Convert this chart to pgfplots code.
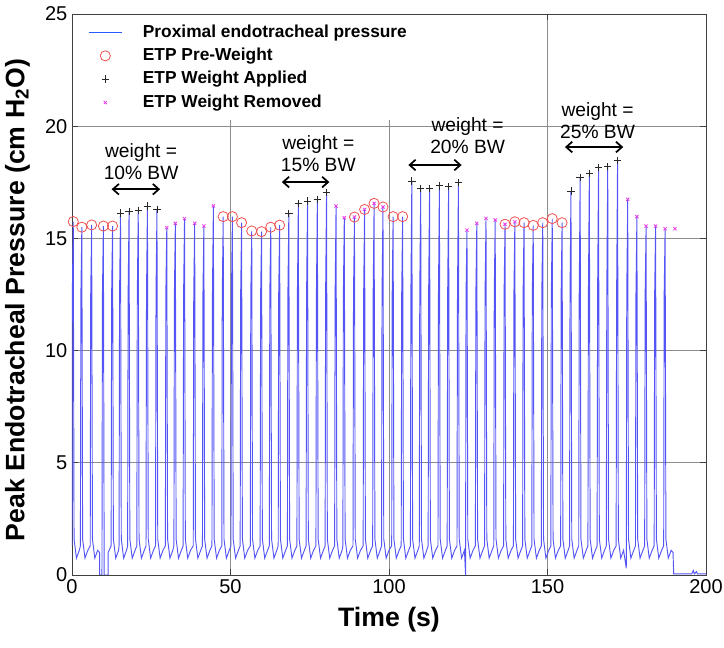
\documentclass[border=0pt]{standalone}
\usepackage{pgfplots}
\pgfplotsset{compat=1.18}
\usepackage{fontspec}
\setmainfont{Liberation Sans}
\usetikzlibrary{arrows.meta}
\definecolor{trace}{RGB}{85,85,245}
\definecolor{legblue}{RGB}{40,90,255}
\definecolor{circred}{RGB}{240,80,80}
\definecolor{xmag}{RGB}{230,60,230}
\definecolor{plusk}{RGB}{40,40,40}
\begin{document}
\begin{tikzpicture}
\begin{axis}[
  scale only axis, width=475.5pt, height=420.75pt,
  xmin=0, xmax=200, ymin=0, ymax=25,
  xtick={0,50,100,150,200}, ytick={0,5,10,15,20,25},
  grid=major, major grid style={black!45, line width=0.5pt},
  axis line style={black!75, line width=0.6pt},
  tick style={black!75, line width=0.6pt}, major tick length=4.5pt,
  tick pos=both,
  /pgf/number format/assume math mode=true,
  ticklabel style={font=\fontsize{15}{18}\selectfont},
  xlabel={Time (s)},
  ylabel={Peak Endotracheal Pressure (cm H\textsubscript{2}O)},
  label style={font=\fontsize{20}{24}\selectfont\bfseries},
  xlabel style={at={(axis description cs:0.5,-0.080)}, anchor=center},
  ylabel style={at={(axis description cs:-0.086,0.49)}, anchor=center},
  legend image code/.code={\draw[mark repeat=2,mark phase=2,#1] plot coordinates {(0pt,0pt) (12.5pt,0pt) (25pt,0pt)};},
  legend cell align=left,
  legend style={at={(rel axis cs:0,1)}, xshift=0.6pt, yshift=-0.6pt, anchor=north west,
    draw=none, fill=white, inner xsep=11pt, inner ysep=7pt, row sep=5.3pt,
    font=\fontsize{13}{15}\selectfont\bfseries,
    nodes={inner sep=0pt, text height=9.5pt, text depth=2.7pt},
    /tikz/every odd column/.append style={column sep=15pt}},
]
\addplot[trace, line width=0.7pt, forget plot] coordinates {
(0,1.3) (0.1,12.5) (0.4,15.75) (0.65,1.6) (1.4,0.75) (2.3,1.1)
(2.65,1.3) (2.8,12.5) (3.1,15.5) (3.35,1.6) (4.1,0.75) (5.0,1.1)
(5.75,1.3) (5.9,12.5) (6.2,15.6) (6.45,1.6) (7.2,0.75) (8.1,1.1)
(8.7,1.0) (8.7,0) (9.45,0)
(9.6,12.5) (9.9,15.55) (10.15,0) (11.4,0) (11.4,1.0)
(12.35,1.3) (12.5,12.5) (12.8,15.55) (13.05,1.6) (13.8,0.75) (14.7,1.1)
(14.85,1.3) (15.0,12.5) (15.3,16.13) (15.55,1.6) (16.3,0.75) (17.2,1.1)
(17.55,1.3) (17.7,12.5) (18.0,16.2) (18.25,1.6) (19.0,0.75) (19.9,1.1)
(20.45,1.3) (20.6,12.5) (20.9,16.25) (21.15,1.6) (21.9,0.75) (22.8,1.1)
(23.35,1.3) (23.5,12.5) (23.8,16.44) (24.05,1.6) (24.8,0.75) (25.7,1.1)
(26.35,1.3) (26.5,12.5) (26.8,16.29) (27.05,1.6) (27.8,0.75) (28.7,1.1)
(29.45,1.3) (29.6,12.5) (29.9,15.48) (30.15,1.6) (30.9,0.75) (31.8,1.1)
(32.15,1.3) (32.3,12.5) (32.6,15.67) (32.85,1.6) (33.6,0.75) (34.5,1.1)
(35.05,1.3) (35.2,12.5) (35.5,15.88) (35.75,1.6) (36.5,0.75) (37.4,1.1)
(38.25,1.3) (38.4,12.5) (38.7,15.67) (38.95,1.6) (39.7,0.75) (40.6,1.1)
(41.15,1.3) (41.3,12.5) (41.6,15.55) (41.85,1.6) (42.6,0.75) (43.5,1.1)
(44.15,1.3) (44.3,12.5) (44.6,16.45) (44.85,1.6) (45.6,0.75) (46.5,1.1)
(47.25,1.3) (47.4,12.5) (47.7,15.97) (47.95,1.6) (48.7,0.75) (49.6,1.1)
(50.15,1.3) (50.3,12.5) (50.6,15.97) (50.85,1.6) (51.6,0.75) (52.5,1.1)
(53.05,1.3) (53.2,12.5) (53.5,15.7) (53.75,1.6) (54.5,0.75) (55.4,1.1)
(56.25,1.3) (56.4,12.5) (56.7,15.33) (56.95,1.6) (57.7,0.75) (58.6,1.1)
(59.35,1.3) (59.5,12.5) (59.8,15.3) (60.05,1.6) (60.8,0.75) (61.7,1.1)
(62.25,1.3) (62.4,12.5) (62.7,15.5) (62.95,1.6) (63.7,0.75) (64.6,1.1)
(65.05,1.3) (65.2,12.5) (65.5,15.59) (65.75,1.6) (66.5,0.75) (67.4,1.1)
(67.95,1.3) (68.1,12.5) (68.4,16.12) (68.65,1.6) (69.4,0.75) (70.3,1.1)
(70.95,1.3) (71.1,12.5) (71.4,16.55) (71.65,1.6) (72.4,0.75) (73.3,1.1)
(73.85,1.3) (74.0,12.5) (74.3,16.67) (74.55,1.6) (75.3,0.75) (76.2,1.1)
(76.95,1.3) (77.1,12.5) (77.4,16.74) (77.65,1.6) (78.4,0.75) (79.3,1.1)
(79.85,1.3) (80.0,12.5) (80.3,17.04) (80.55,1.6) (81.3,0.75) (82.2,1.1)
(82.85,1.3) (83.0,12.5) (83.3,16.44) (83.55,1.6) (84.3,0.75) (85.2,1.1)
(85.45,1.3) (85.6,12.5) (85.9,15.92) (86.15,1.6) (86.9,0.75) (87.8,1.1)
(88.65,1.3) (88.8,12.5) (89.1,15.95) (89.35,1.6) (90.1,0.75) (91.0,1.1)
(91.85,1.3) (92.0,12.5) (92.3,16.29) (92.55,1.6) (93.3,0.75) (94.2,1.1)
(94.85,1.3) (95.0,12.5) (95.3,16.56) (95.55,1.6) (96.3,0.75) (97.2,1.1)
(97.65,1.3) (97.8,12.5) (98.1,16.4) (98.35,1.6) (99.1,0.75) (100.0,1.1)
(100.85,1.3) (101.0,12.5) (101.3,15.97) (101.55,1.6) (102.3,0.75) (103.2,1.1)
(103.85,1.3) (104.0,12.5) (104.3,15.97) (104.55,1.6) (105.3,0.75) (106.2,1.1)
(106.75,1.3) (106.9,12.5) (107.2,17.56) (107.45,1.6) (108.2,0.75) (109.1,1.1)
(109.55,1.3) (109.7,12.5) (110.0,17.22) (110.25,1.6) (111.0,0.75) (111.9,1.1)
(112.35,1.3) (112.5,12.5) (112.8,17.22) (113.05,1.6) (113.8,0.75) (114.7,1.1)
(115.45,1.3) (115.6,12.5) (115.9,17.34) (116.15,1.6) (116.9,0.75) (117.8,1.1)
(118.35,1.3) (118.5,12.5) (118.8,17.31) (119.05,1.6) (119.8,0.75) (120.7,1.1)
(121.45,1.3) (121.6,12.5) (121.9,17.49) (122.15,1.6) (122.9,0.75) (123.8,1.1)
(124.15,0) (124.3,12.5) (124.6,15.37) (124.85,1.6) (125.6,0.75) (126.5,1.1)
(127.25,1.3) (127.4,12.5) (127.7,15.67) (127.95,1.6) (128.7,0.75) (129.6,1.1)
(130.15,1.3) (130.3,12.5) (130.6,15.89) (130.85,1.6) (131.6,0.75) (132.5,1.1)
(133.05,1.3) (133.2,12.5) (133.5,15.82) (133.75,1.6) (134.5,0.75) (135.4,1.1)
(136.15,1.3) (136.3,12.5) (136.6,15.63) (136.85,1.6) (137.6,0.75) (138.5,1.1)
(139.25,1.3) (139.4,12.5) (139.7,15.74) (139.95,1.6) (140.7,0.75) (141.6,1.1)
(142.15,1.3) (142.3,12.5) (142.6,15.7) (142.85,1.6) (143.6,0.75) (144.5,1.1)
(145.05,1.3) (145.2,12.5) (145.5,15.58) (145.75,1.6) (146.5,0.75) (147.4,1.1)
(148.05,1.3) (148.2,12.5) (148.5,15.7) (148.75,1.6) (149.5,0.75) (150.4,1.1)
(151.05,1.3) (151.2,12.5) (151.5,15.88) (151.75,1.6) (152.5,0.75) (153.4,1.1)
(154.15,1.3) (154.3,12.5) (154.6,15.7) (154.85,1.6) (155.6,0.75) (156.5,1.1)
(156.95,1.3) (157.1,12.5) (157.4,17.11) (157.65,1.6) (158.4,0.75) (159.3,1.1)
(159.85,1.3) (160.0,12.5) (160.3,17.71) (160.55,1.6) (161.3,0.75) (162.2,1.1)
(162.75,1.3) (162.9,12.5) (163.2,17.89) (163.45,1.6) (164.2,0.75) (165.1,1.1)
(165.65,1.3) (165.8,12.5) (166.1,18.16) (166.35,1.6) (167.1,0.75) (168.0,1.1)
(168.55,1.3) (168.7,12.5) (169.0,18.2) (169.25,1.6) (170.0,0.75) (170.9,1.1)
(171.65,1.3) (171.8,12.5) (172.1,18.48) (172.35,1.6) (173.1,0.75) (174.0,1.1)
(174.85,0.3) (175.0,12.5) (175.3,16.74) (175.55,1.6) (176.3,0.75) (177.2,1.1)
(177.75,1.3) (177.9,12.5) (178.2,15.97) (178.45,1.6) (179.2,0.75) (180.1,1.1)
(180.65,1.3) (180.8,12.5) (181.1,15.55) (181.35,1.6) (182.1,0.75) (183.0,1.1)
(183.65,1.3) (183.8,12.5) (184.1,15.55) (184.35,1.6) (185.1,0.75) (186.0,1.1)
(186.65,1.3) (186.8,12.5) (187.1,15.43) (187.35,1.6) (188.1,0.75) (189.0,1.1)
(189.6,1.0) (189.8,0.05) (195.5,0.05) (196.0,0.2) (196.3,0.05) (197.0,0.15) (197.3,0.05) (200,0.05)
};
\addplot[only marks, mark=o, mark size=3.8pt, circred, line width=0.6pt, forget plot] coordinates {
(0.4,15.75) (3.1,15.5) (6.2,15.6) (9.9,15.55) (12.8,15.55)
(47.7,15.97) (50.6,15.97) (53.5,15.7) (56.7,15.33) (59.8,15.3) (62.7,15.5) (65.5,15.59)
(89.1,15.95) (92.3,16.29) (95.3,16.56) (98.1,16.4) (101.3,15.97) (104.3,15.97)
(136.6,15.63) (139.7,15.74) (142.6,15.7) (145.5,15.58) (148.5,15.7) (151.5,15.88) (154.6,15.7)
};
\addplot[only marks, mark=+, mark size=2.8pt, plusk, line width=0.6pt, forget plot] coordinates {
(15.3,16.13) (18.0,16.2) (20.9,16.25) (23.8,16.44) (26.8,16.29)
(68.4,16.12) (71.4,16.55) (74.3,16.67) (77.4,16.74) (80.3,17.04)
(107.2,17.56) (110.0,17.22) (112.8,17.22) (115.9,17.34) (118.8,17.31) (121.9,17.49)
(157.4,17.11) (160.3,17.71) (163.2,17.89) (166.1,18.16) (169.0,18.2) (172.1,18.48)
};
\addplot[only marks, mark=x, mark size=1.7pt, xmag, line width=0.6pt, forget plot] coordinates {
(29.9,15.48) (32.6,15.67) (35.5,15.88) (38.7,15.67) (41.6,15.55) (44.6,16.45)
(83.3,16.44) (85.9,15.92) (89.1,15.95) (92.3,16.29) (95.3,16.56) (98.1,16.4)
(124.6,15.37) (127.7,15.67) (130.6,15.89) (133.5,15.82) (136.6,15.63) (139.7,15.74)
(175.3,16.74) (178.2,15.97) (181.1,15.55) (184.1,15.55) (187.1,15.43) (190.2,15.43)
};
\addlegendimage{legblue, line width=1.4pt}
\addlegendentry{Proximal endotracheal pressure}
\addlegendimage{only marks, mark=o, mark size=3.8pt, circred, line width=0.6pt}
\addlegendentry{ETP Pre-Weight}
\addlegendimage{only marks, mark=+, mark size=2.8pt, plusk, line width=0.6pt}
\addlegendentry{ETP Weight Applied}
\addlegendimage{only marks, mark=x, mark size=1.7pt, xmag, line width=0.6pt}
\addlegendentry{ETP Weight Removed}
\node[font=\fontsize{14.4}{16.3}\selectfont, align=center] at (axis cs:21.8,18.41) {weight =\\10\% BW};
\node[font=\fontsize{14.4}{16.3}\selectfont, align=center] at (axis cs:77.7,18.78) {weight =\\15\% BW};
\node[font=\fontsize{14.4}{16.3}\selectfont, align=center] at (axis cs:124.8,19.59) {weight =\\20\% BW};
\node[font=\fontsize{14.4}{16.3}\selectfont, align=center] at (axis cs:165.8,20.26) {weight =\\25\% BW};
\draw[{Straight Barb[length=4.5pt,width=8pt]}-{Straight Barb[length=4.5pt,width=8pt]}, line width=1.3pt] (axis cs:12.5,17.19) -- (axis cs:27.8,17.19);
\draw[{Straight Barb[length=4.5pt,width=8pt]}-{Straight Barb[length=4.5pt,width=8pt]}, line width=1.3pt] (axis cs:66.2,17.51) -- (axis cs:81.2,17.51);
\draw[{Straight Barb[length=4.5pt,width=8pt]}-{Straight Barb[length=4.5pt,width=8pt]}, line width=1.3pt] (axis cs:106.1,18.27) -- (axis cs:122.9,18.27);
\draw[{Straight Barb[length=4.5pt,width=8pt]}-{Straight Barb[length=4.5pt,width=8pt]}, line width=1.3pt] (axis cs:155.5,19.07) -- (axis cs:173.9,19.07);
\end{axis}
\pgfresetboundingbox
\path (current axis.south west) ++(-54pt,-54.75pt) coordinate (bbsw);
\path (current axis.north east) ++(13.5pt,10.5pt) coordinate (bbne);
\path[use as bounding box] (bbsw) rectangle (bbne);
\end{tikzpicture}
\end{document}
